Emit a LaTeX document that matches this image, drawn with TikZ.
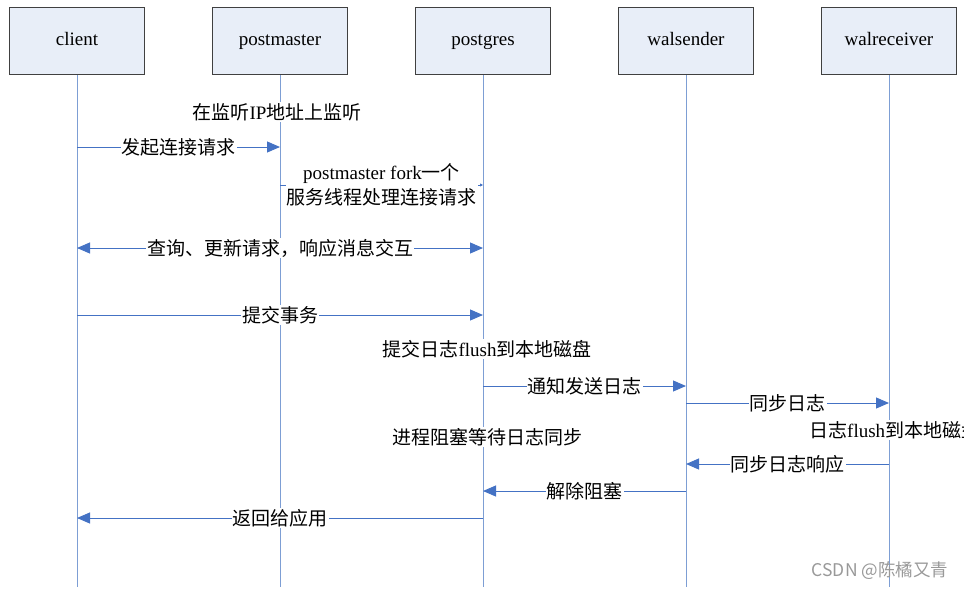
\documentclass[tikz,border=0pt]{standalone}
\usepackage{fontspec}
\setmainfont{Liberation Serif}
\newfontfamily\cjk{Noto Sans CJK SC}
\newcommand{\zh}[1]{{\cjk #1}}
\usetikzlibrary{arrows.meta}

\definecolor{boxfill}{RGB}{232,238,248}
\definecolor{boxline}{RGB}{64,64,64}
\definecolor{lifeblue}{RGB}{125,158,212}
\definecolor{msgblue}{RGB}{68,114,196}

\begin{document}
\begin{tikzpicture}[x=1pt, y=-1pt,
			>={Triangle[length=13pt,width=11pt]},   %Pfeilspitzen
			actor/.style={draw=boxline, fill=boxfill, line width=1pt, minimum width=135pt, minimum height=67pt, inner sep=0pt, text height=13pt, text depth=4pt},
			lifeline/.style={draw=lifeblue, line width=1pt},
			msg/.style={line width=1pt, color=msgblue},
			lbl/.style={fill=white, inner sep=1pt, text=black},
			note/.style={fill=white, inner sep=1pt, text=black},
			font=\fontsize{19}{25}\selectfont]
			%Bildbereich
			\useasboundingbox (0,0) rectangle (964,589);
			\clip (0,0) rectangle (964,589);
			% Prozesse und Lebenslinien
			\foreach \nm/\x in {client/77, postmaster/280, postgres/483, walsender/686, walreceiver/889} {
				\coordinate (\nm-end) at (\x,587);
				\draw[lifeline] (\x,74) -- (\nm-end);
				\node[actor] (\nm) at (\x,40.5) {\nm};
			}
			% Verbindungsaufbau
			\node[note] (listen) at (277,112) {\zh{在监听}IP\zh{地址上监听}};
			\draw[msg, ->] (client |- 0,147) -- node[lbl] (connreq) {\zh{发起连接请求}} (postmaster |- 0,147);
			\draw[msg, -{Triangle[length=3pt,width=3pt]}] (postmaster |- 0,185) -- node[lbl, align=center] (fork) {postmaster fork\zh{一个}\\\zh{服务线程处理连接请求}} (postgres |- 0,185);
			% Abfragen
			\draw[msg, <->] (client |- 0,248) -- node[lbl] (query) {\zh{查询、更新请求，响应消息交互}} (postgres |- 0,248);
			\draw[msg, ->] (client |- 0,315) -- node[lbl] (commit) {\zh{提交事务}} (postgres |- 0,315);
			\node[note] (flushlocal) at (487,349) {\zh{提交日志}flush\zh{到本地磁盘}};
			% Replikation
			\draw[msg, ->] (postgres |- 0,386) -- node[lbl] (notify) {\zh{通知发送日志}} (walsender |- 0,386);
			\draw[msg, ->] (walsender |- 0,403) -- node[lbl] (sync) {\zh{同步日志}} (walreceiver |- 0,403);
			\node[note, anchor=west] (flushremote) at (808,430) {\zh{日志}flush\zh{到本地磁盘}};
			\node[note] (wait) at (487,437) {\zh{进程阻塞等待日志同步}};
			\draw[msg, ->] (walreceiver |- 0,464) -- node[lbl] (syncack) {\zh{同步日志响应}} (walsender |- 0,464);
			\draw[msg, ->] (walsender |- 0,491) -- node[lbl] (unblock) {\zh{解除阻塞}} (postgres |- 0,491);
			\draw[msg, ->] (postgres |- 0,518) -- node[lbl] (reply) {\zh{返回给应用}} (client |- 0,518);
			%Wasserzeichen
			\node[text=black!40, font=\cjk\fontsize{17.5}{20}\selectfont] (mark) at (880,571) {CSDN @陈橘又青};
		\end{tikzpicture}
\end{document}
